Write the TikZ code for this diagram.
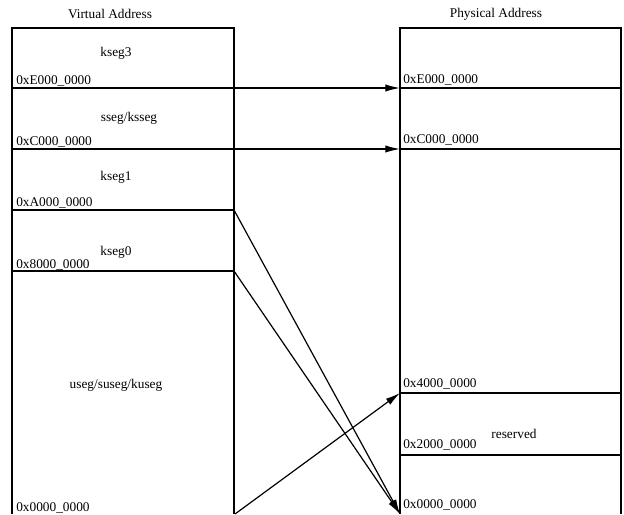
\documentclass[tikz,border=0pt]{standalone}
\usepackage{fontspec}
\setmainfont{Liberation Serif}
\usetikzlibrary{arrows.meta}

\tikzset{
  seg/.style={line width=0.9pt},
  addr/.style={anchor=west, inner sep=0pt, font=\fontsize{10}{12}\selectfont},
  segname/.style={inner sep=0pt, font=\fontsize{10}{12}\selectfont},
  mapto/.style={line width=0.9pt, -{Latex[length=11pt,width=5.5pt]}}
}

\begin{document}
\begin{tikzpicture}[x=0.75pt,y=-0.75pt]
\useasboundingbox (0,0) rectangle (624,514);

% virtual address space
\node[segname] (vtitle) at (110,14) {Virtual Address};
\draw[seg] (12,514) -- (12,28) -- (234,28) -- (234,514);
\foreach \y in {88,149,210,271}
  \draw[seg] (12,\y) -- (234,\y);

\node[segname] (kseg3) at (116,53) {kseg3};
\node[segname] (sseg) at (129,118) {sseg/ksseg};
\node[segname] (kseg1) at (116,177) {kseg1};
\node[segname] (kseg0) at (116,252) {kseg0};
\node[segname] (useg) at (116,385) {useg/suseg/kuseg};

\node[addr] (vE) at (16,81) {0xE000\_0000};
\node[addr] (vC) at (16,142) {0xC000\_0000};
\node[addr] (vA) at (16,203) {0xA000\_0000};
\node[addr] (v8) at (16,265) {0x8000\_0000};
\node[addr] (v0) at (16,508) {0x0000\_0000};

% physical address space
\node[segname] (ptitle) at (496,14) {Physical Address};
\draw[seg] (400,514) -- (400,28) -- (621,28) -- (621,514);
\foreach \y in {88,149,393,455}
  \draw[seg] (400,\y) -- (621,\y);

\node[segname] (rsvd) at (514,434) {reserved};

\node[addr] (pE) at (403,80) {0xE000\_0000};
\node[addr] (pC) at (403,140) {0xC000\_0000};
\node[addr] (p4) at (403,384) {0x4000\_0000};
\node[addr] (p2) at (403,445) {0x2000\_0000};
\node[addr] (p0) at (403,505) {0x0000\_0000};

% mapping
\coordinate (vEend) at (234,88);
\coordinate (vCend) at (234,149);
\coordinate (vAend) at (234,210);
\coordinate (v8end) at (234,271);
\coordinate (v0end) at (235,514);
\coordinate (pEend) at (400,88);
\coordinate (pCend) at (400,149);
\coordinate (p4end) at (400,393);
\coordinate (p0end) at (400,514);

\draw[mapto] (vEend) -- (pEend);
\draw[mapto] (vCend) -- (pCend);
\draw[mapto] (vAend) -- (p0end);
\draw[mapto] (v8end) -- (p0end);
\draw[mapto] (v0end) -- (p4end);

\end{tikzpicture}
\end{document}
